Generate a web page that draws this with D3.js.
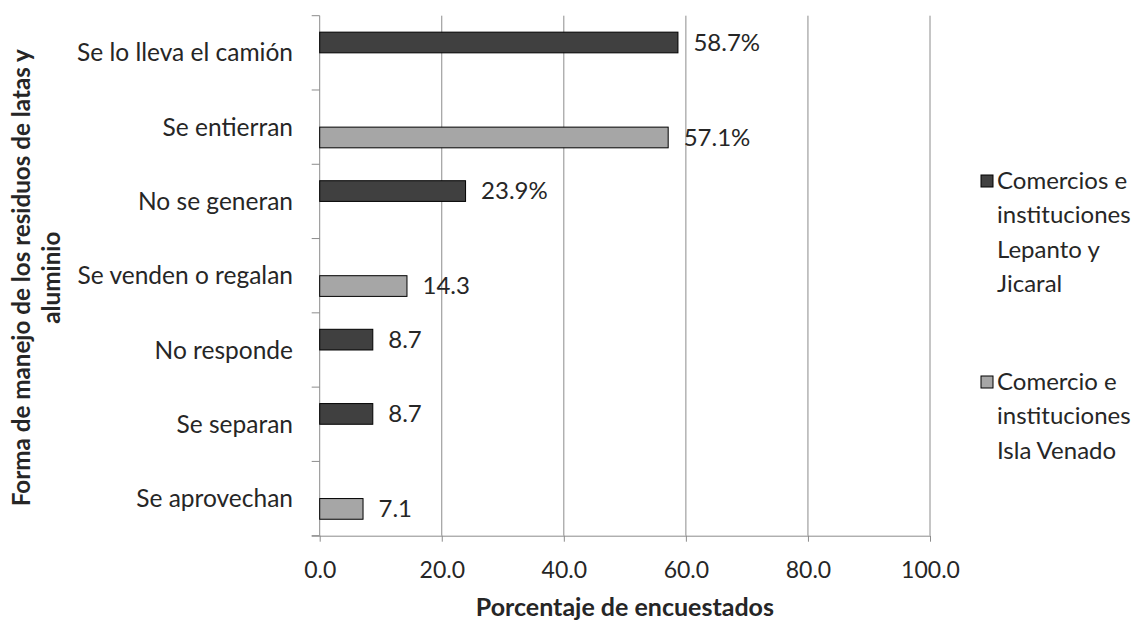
<!DOCTYPE html>
<html>
<head>
<meta charset="utf-8">
<script src="https://cdn.jsdelivr.net/npm/d3@7"></script>
<style>
  html, body { margin: 0; padding: 0; background: #fff; }
  svg { display: block; }
  text { font-family: Lato, "Open Sans", sans-serif; fill: #262626; }
</style>
</head>
<body>
<svg id="chart" width="1136" height="623"></svg>
<script>
const categories = ["Se lo lleva el camión", "Se entierran", "No se generan", "Se venden o regalan", "No responde", "Se separan", "Se aprovechan"];
const seriesNames = ["Comercios e instituciones Lepanto y Jicaral", "Comercio e instituciones Isla Venado"];
const lepantoValues = [58.7, 0, 23.9, 0, 8.7, 8.7, 0];
const islaValues = [0, 57.1, 0, 14.3, 0, 0, 7.1];
const barLabels = ["58.7%", "57.1%", "23.9%", "14.3", "8.7", "8.7", "7.1"];
const xTicks = [0, 20, 40, 60, 80, 100];
const legendLines = [["Comercios e", "instituciones", "Lepanto y", "Jicaral"], ["Comercio e", "instituciones", "Isla Venado"]];
const colors = ["#404040", "#a6a6a6"];

const svg = d3.select("#chart");
const m = { left: 319.7, right: 930, top: 15.7, bottom: 535.7 };
const fsCat = 24.5, fsVal = 24, fsTick = 23, fsLeg = 24, fsTitle = 25, fsYTitle = 24.2;

const x = d3.scaleLinear().domain([0, 100]).range([m.left, m.right]);
const y0 = d3.scaleBand().domain(categories).range([m.top, m.bottom]).paddingInner(0).paddingOuter(0);
const y1 = d3.scaleBand().domain([0, 1]).range([0, y0.bandwidth()]).paddingInner(0).paddingOuter(0.795);

// gridlines
svg.append("g").selectAll("line").data(xTicks.slice(1)).join("line")
  .attr("x1", d => x(d)).attr("x2", d => x(d))
  .attr("y1", m.top).attr("y2", m.bottom)
  .attr("stroke", "#8c8c8c").attr("stroke-width", 1);

// x axis
const xAxis = svg.append("g").attr("transform", `translate(0,${m.bottom})`)
  .call(d3.axisBottom(x).tickValues(xTicks).tickFormat(d3.format(".1f")).tickSize(6).tickPadding(20));
xAxis.select(".domain").attr("stroke", "#8c8c8c").attr("d", `M${m.left - 8},0.5H${m.right}`);
xAxis.selectAll(".tick line").attr("stroke", "#8c8c8c");
xAxis.selectAll(".tick text").style("font-size", fsTick + "px").attr("fill", "#262626").style("font-family", "Lato, sans-serif");

// y axis line + ticks at band boundaries
const bounds = categories.map(c => y0(c)).concat([m.bottom]);
svg.append("line").attr("x1", m.left).attr("x2", m.left).attr("y1", m.top).attr("y2", m.bottom).attr("stroke", "#8c8c8c");
svg.append("g").selectAll("line").data(bounds).join("line")
  .attr("x1", m.left - 8).attr("x2", m.left)
  .attr("y1", d => d).attr("y2", d => d)
  .attr("stroke", "#8c8c8c");

// category labels
svg.append("g").selectAll("text").data(categories).join("text")
  .attr("x", 293).attr("y", d => y0(d) + y0.bandwidth() / 2)
  .attr("dy", "0.35em").attr("text-anchor", "end")
  .style("font-size", fsCat + "px").text(d => d);

// bars
const rows = categories.map((c, i) => ({ c, vals: [lepantoValues[i], islaValues[i]], label: barLabels[i] }));
const g = svg.append("g");
rows.forEach(r => {
  r.vals.forEach((v, s) => {
    if (v > 0) {
      const yy = y0(r.c) + y1(s);
      g.append("rect")
        .attr("x", x(0)).attr("y", yy)
        .attr("width", x(v) - x(0)).attr("height", y1.bandwidth())
        .attr("fill", colors[s]).attr("stroke", "#000").attr("stroke-width", 1);
      g.append("text")
        .attr("x", x(v) + 15.5).attr("y", yy + y1.bandwidth() / 2)
        .attr("dy", "0.35em").style("font-size", fsVal + "px").text(r.label);
    }
  });
});

// axis titles
svg.append("text").attr("x", (m.left + m.right) / 2).attr("y", 607).attr("dy", "0.35em")
  .attr("text-anchor", "middle").style("font-size", fsTitle + "px").style("font-weight", "bold")
  .text("Porcentaje de encuestados");

const yt = svg.append("text").attr("transform", `translate(22,${(m.top + m.bottom) / 2 + 2}) rotate(-90)`)
  .attr("text-anchor", "middle").style("font-size", fsYTitle + "px").style("font-weight", "bold");
yt.append("tspan").attr("x", 0).attr("dy", "0.35em").text("Forma de manejo de los residuos de latas y");
yt.append("tspan").attr("x", 0).attr("dy", "1.2em").text("aluminio");

// legend
const legendY = [181, 382];
legendLines.forEach((lines, s) => {
  svg.append("rect").attr("x", 981).attr("y", legendY[s] - 6).attr("width", 12).attr("height", 12)
    .attr("fill", colors[s]).attr("stroke", "#000").attr("stroke-width", 1);
  const t = svg.append("text").attr("x", 997).attr("y", legendY[s]).style("font-size", fsLeg + "px");
  lines.forEach((ln, k) => {
    t.append("tspan").attr("x", 997).attr("dy", k === 0 ? "0.35em" : "1.42em").text(ln);
  });
});
</script>
</body>
</html>
